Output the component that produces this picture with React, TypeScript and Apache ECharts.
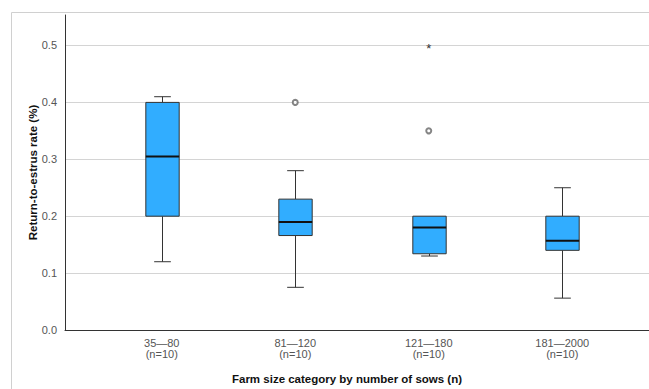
import React, { useEffect, useRef } from "react";
import * as echarts from "echarts";

const categoryNames = ["35—80", "81—120", "121—180", "181—2000"];
const sampleSizes = [10, 10, 10, 10];
// [min whisker, Q1, median, Q3, max whisker]
const whiskerMin = [0.12, 0.075, 0.13, 0.056];
const q1Values = [0.2, 0.166, 0.134, 0.14];
const medianValues = [0.305, 0.19, 0.18, 0.157];
const q3Values = [0.4, 0.23, 0.2, 0.2];
const whiskerMax = [0.41, 0.28, 0.2, 0.25];
// outliers: [category index, value]
const circleOutliers = [
  [1, 0.4],
  [2, 0.35],
];
const extremeOutliers = [[2, 0.5]];
const yTicks = [0, 0.1, 0.2, 0.3, 0.4, 0.5];

const FONT = "'Liberation Sans', Arial, sans-serif";

export default function App() {
  const ref = useRef<HTMLDivElement>(null);
  useEffect(() => {
    if (!ref.current) return;
    const chart = echarts.init(ref.current, null, { renderer: "svg" });
    const yMax = 0.5536;
    const boxData = categoryNames.map((_, i) => [
      i,
      whiskerMin[i],
      q1Values[i],
      medianValues[i],
      q3Values[i],
      whiskerMax[i],
    ]);
    const labels = categoryNames.map((c, i) => `${c}\n(n=${sampleSizes[i]})`);
    const option: any = {
      animation: false,
      backgroundColor: "#ffffff",
      textStyle: { fontFamily: FONT },
      grid: [
        { left: 65, right: 0, top: 15, bottom: 59 },
        { left: 95, right: 20, top: 15, bottom: 59 },
      ],
      xAxis: [
        {
          gridIndex: 0,
          type: "value",
          min: 0,
          max: 1,
          axisLine: { show: true, onZero: false, lineStyle: { color: "#333", width: 1 } },
          axisTick: { show: false },
          axisLabel: { show: false },
          splitLine: { show: false },
        },
        {
          gridIndex: 1,
          type: "category",
          data: labels,
          boundaryGap: true,
          axisLine: { show: false },
          axisTick: { show: false },
          splitLine: { show: false },
          axisLabel: {
            show: true,
            interval: 0,
            margin: 7,
            color: "#555",
            fontSize: 11,
            lineHeight: 11,
            fontFamily: FONT,
          },
        },
      ],
      yAxis: [
        {
          gridIndex: 0,
          type: "value",
          min: 0,
          max: yMax,
          interval: 0.1,
          axisLine: { show: true, lineStyle: { color: "#333", width: 1 } },
          axisTick: { show: false },
          axisLabel: {
            margin: 8,
            color: "#555",
            fontSize: 11,
            fontFamily: FONT,
            formatter: (v: number) => {
              const hit = yTicks.find((t) => Math.abs(t - v) < 1e-6);
              return hit === undefined ? "" : hit.toFixed(1);
            },
          },
          splitLine: {
            show: true,
            showMinLine: false,
            showMaxLine: false,
            lineStyle: { color: "#d4d4d4", width: 1 },
          },
        },
        {
          gridIndex: 1,
          type: "value",
          min: 0,
          max: yMax,
          show: false,
          splitLine: { show: false },
        },
      ],
      series: [
        {
          type: "custom",
          xAxisIndex: 1,
          yAxisIndex: 1,
          data: boxData,
          encode: { x: 0, y: [1, 2, 3, 4, 5] },
          renderItem: (params: any, api: any) => {
            const x = api.value(0);
            const pMin = api.coord([x, api.value(1)]);
            const pQ1 = api.coord([x, api.value(2)]);
            const pMed = api.coord([x, api.value(3)]);
            const pQ3 = api.coord([x, api.value(4)]);
            const pMax = api.coord([x, api.value(5)]);
            const bw = api.size([1, 0])[0] * 0.25;
            const cap = bw / 2;
            const cx = Math.round(pMed[0]) + 0.5;
            const lineStyle = { stroke: "#333", lineWidth: 1 };
            const children: any[] = [];
            if (pMax[1] < pQ3[1] - 0.5) {
              children.push({
                type: "line",
                shape: { x1: cx, y1: pMax[1], x2: cx, y2: pQ3[1] },
                style: lineStyle,
              });
              children.push({
                type: "line",
                shape: { x1: cx - cap / 2, y1: pMax[1], x2: cx + cap / 2, y2: pMax[1] },
                style: lineStyle,
              });
            }
            if (pMin[1] > pQ1[1] + 0.5) {
              children.push({
                type: "line",
                shape: { x1: cx, y1: pQ1[1], x2: cx, y2: pMin[1] },
                style: lineStyle,
              });
            }
            children.push({
              type: "line",
              shape: { x1: cx - cap / 2, y1: pMin[1], x2: cx + cap / 2, y2: pMin[1] },
              style: lineStyle,
            });
            children.push({
              type: "rect",
              shape: { x: cx - bw / 2, y: pQ3[1], width: bw, height: pQ1[1] - pQ3[1] },
              style: { fill: "#31adff", stroke: "#333", lineWidth: 1 },
            });
            children.push({
              type: "line",
              shape: { x1: cx - bw / 2, y1: pMed[1], x2: cx + bw / 2, y2: pMed[1] },
              style: { stroke: "#111", lineWidth: 2 },
            });
            return { type: "group", children };
          },
          z: 3,
        },
        {
          type: "scatter",
          xAxisIndex: 1,
          yAxisIndex: 1,
          data: circleOutliers,
          symbol: "emptyCircle",
          symbolSize: 5,
          itemStyle: { color: "#666", borderColor: "#666", borderWidth: 1 },
          z: 4,
        },
        {
          type: "custom",
          xAxisIndex: 1,
          yAxisIndex: 1,
          data: extremeOutliers,
          encode: { x: 0, y: 1 },
          renderItem: (params: any, api: any) => {
            const p = api.coord([api.value(0), api.value(1)]);
            return {
              type: "text",
              x: p[0],
              y: p[1] + 3,
              style: {
                text: "*",
                fill: "#333",
                font: `13px ${FONT}`,
                align: "center",
                verticalAlign: "middle",
              },
            };
          },
          z: 4,
        },
      ],
      graphic: [
        {
          type: "line",
          shape: { x1: 11.5, y1: 12.5, x2: 649, y2: 12.5 },
          style: { stroke: "#d0d0d0", lineWidth: 1 },
        },
        {
          type: "line",
          shape: { x1: 11.5, y1: 12.5, x2: 11.5, y2: 389 },
          style: { stroke: "#d0d0d0", lineWidth: 1 },
        },
        {
          type: "text",
          x: 33,
          y: 172.5,
          rotation: Math.PI / 2,
          style: {
            text: "Return-to-estrus rate (%)",
            fill: "#111",
            font: `bold 11.5px ${FONT}`,
            align: "center",
            verticalAlign: "middle",
          },
        },
        {
          type: "text",
          x: 347,
          y: 379,
          style: {
            text: "Farm size category by number of sows (n)",
            fill: "#111",
            font: `bold 11.5px ${FONT}`,
            align: "center",
            verticalAlign: "middle",
          },
        },
      ],
    };
    chart.setOption(option);
    return () => chart.dispose();
  }, []);
  return (
    <div
      ref={ref}
      style={{ width: 649, height: 389, position: "absolute", left: 0, top: 0 }}
    />
  );
}
